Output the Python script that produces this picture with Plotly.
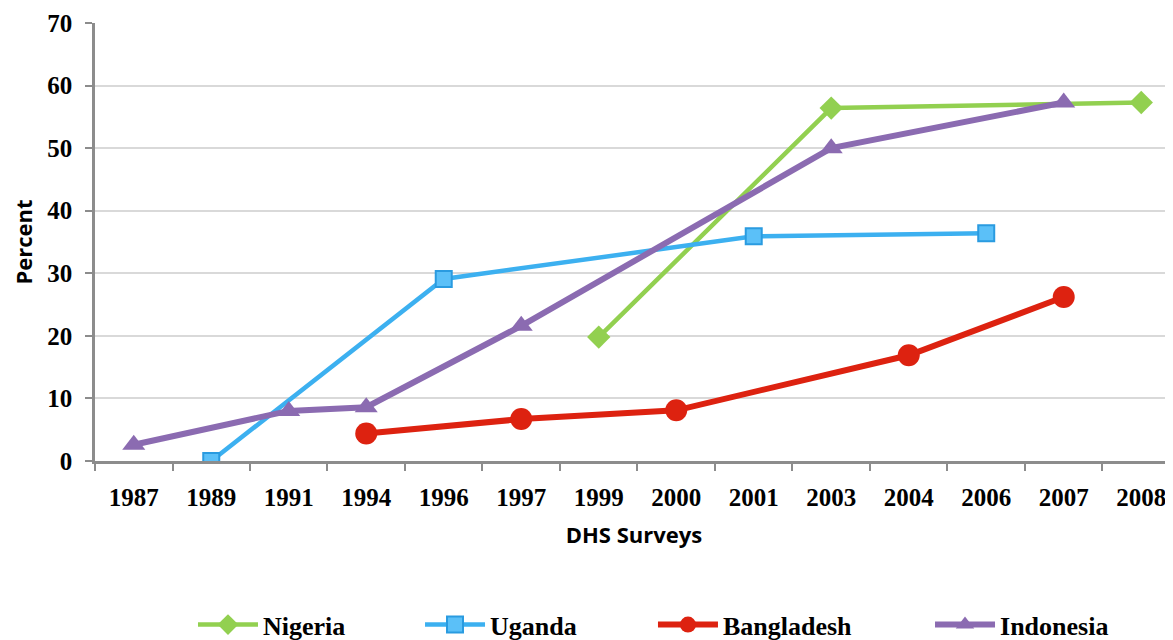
import plotly.graph_objects as go

categories = ["1987", "1989", "1991", "1994", "1996", "1997", "1999", "2000",
              "2001", "2003", "2004", "2006", "2007", "2008"]

nigeria_x = ["1999", "2003", "2008"]
nigeria_y = [19.8, 56.4, 57.3]

uganda_x = ["1989", "1996", "2001", "2006"]
uganda_y = [0.0, 29.1, 35.9, 36.4]

bangladesh_x = ["1994", "1997", "2000", "2004", "2007"]
bangladesh_y = [4.4, 6.7, 8.1, 16.9, 26.2]

indonesia_x = ["1987", "1991", "1994", "1997", "2003", "2007"]
indonesia_y = [2.6, 8.0, 8.6, 21.6, 50.0, 57.3]

y_ticks = [0, 10, 20, 30, 40, 50, 60, 70]

fig = go.Figure()
fig.add_trace(go.Scatter(
    x=nigeria_x, y=nigeria_y, name="Nigeria", mode="lines+markers", legend="legend",
    showlegend=True,
    line=dict(color="#92D050", width=4.5),
    marker=dict(symbol="diamond", size=18, color="#92D050")))
fig.add_trace(go.Scatter(
    x=uganda_x, y=uganda_y, name="Uganda", mode="lines+markers", legend="legend2",
    showlegend=True,
    line=dict(color="#3CB0F0", width=4.5),
    marker=dict(symbol="square", size=16, color="#5BC0F8",
                line=dict(color="#2A9BE0", width=2))))
fig.add_trace(go.Scatter(
    x=bangladesh_x, y=bangladesh_y, name="Bangladesh", mode="lines+markers", legend="legend3",
    showlegend=True,
    line=dict(color="#DD2210", width=6),
    marker=dict(symbol="circle", size=22, color="#DD2210")))
fig.add_trace(go.Scatter(
    x=indonesia_x, y=indonesia_y, name="Indonesia", mode="lines+markers", legend="legend4",
    showlegend=True,
    line=dict(color="#8B6BB1", width=6),
    marker=dict(symbol="triangle-up", size=20, color="#8B6BB1")))

tick_font = dict(family="Liberation Serif", size=25, color="black", weight="bold")
title_font = dict(family="Open Sans", size=22, color="black", weight="bold")
legend_font = dict(family="Liberation Serif", size=26, color="black", weight="bold")


def legend_at(x):
    return dict(orientation="h", x=x, xanchor="left", y=-0.32, yanchor="top",
                font=legend_font, itemwidth=60, bgcolor="rgba(0,0,0,0)", visible=True)


fig.update_layout(
    width=1165, height=632,
    showlegend=True,
    margin=dict(l=87, r=0, t=15, b=179, autoexpand=False),
    paper_bgcolor="white", plot_bgcolor="white",
    font=dict(family="Liberation Serif", color="black"),
    legend=legend_at(0.0909),
    legend2=legend_at(0.3015),
    legend3=legend_at(0.5176),
    legend4=legend_at(0.7746),
    xaxis=dict(
        type="category", categoryorder="array", categoryarray=categories,
        tickvals=categories, ticktext=categories,
        range=[-0.5, 13.41],
        automargin=False,
        showline=True, linecolor="#8C8C8C", linewidth=2.5,
        ticks="outside", tickson="boundaries", ticklen=7, tickcolor="#8C8C8C", tickwidth=2,
        tickfont=tick_font, ticklabelstandoff=12,
        showgrid=False,
        title=dict(text="DHS Surveys", standoff=18, font=title_font),
    ),
    yaxis=dict(
        range=[0, 70], tickvals=y_ticks,
        automargin=False,
        showline=True, linecolor="#8C8C8C", linewidth=2.5,
        ticks="outside", ticklen=7, tickcolor="#8C8C8C", tickwidth=2,
        showgrid=True, gridcolor="#D9D9D9", gridwidth=1.5,
        zeroline=False,
        tickfont=tick_font, ticklabelstandoff=8,
        title=dict(text="Percent", standoff=12, font=title_font),
    ),
)

fig.write_html("out.html")
